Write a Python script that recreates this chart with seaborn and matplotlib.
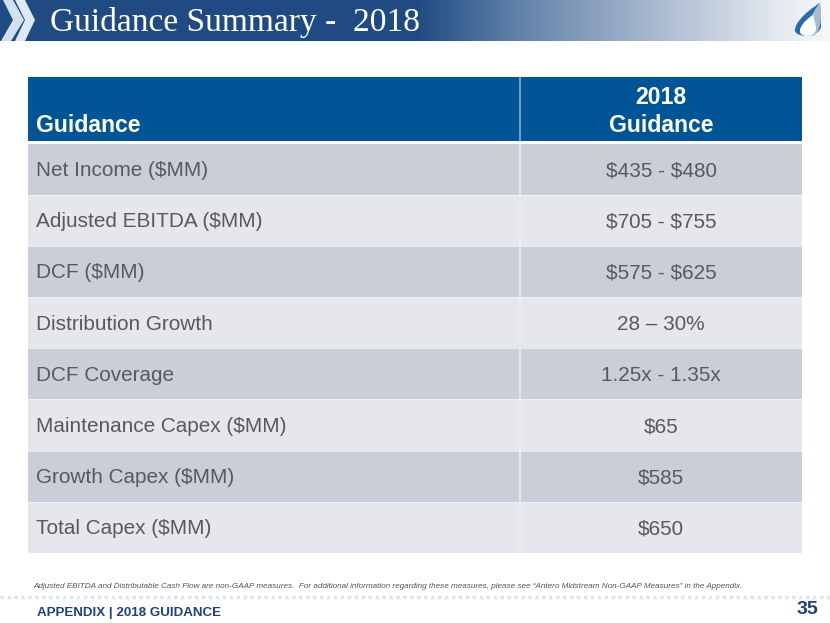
import numpy as np
import pandas as pd
import matplotlib
matplotlib.use('Agg')
import matplotlib.pyplot as plt
from matplotlib.colors import LinearSegmentedColormap, ListedColormap
from matplotlib.patches import Polygon, PathPatch
from matplotlib.path import Path
import seaborn as sns

W, H = 830, 623

title = 'Guidance Summary -  2018'
header = ['Guidance', '2018', 'Guidance']
metrics = ['Net Income ($MM)', 'Adjusted EBITDA ($MM)', 'DCF ($MM)', 'Distribution Growth',
           'DCF Coverage', 'Maintenance Capex ($MM)', 'Growth Capex ($MM)', 'Total Capex ($MM)']
guidance = ['$435 - $480', '$705 - $755', '$575 - $625', '28 – 30%',
            '1.25x - 1.35x', '$65', '$585', '$650']
footnote = ('Adjusted EBITDA and Distributable Cash Flow are non-GAAP measures.  For additional information '
            'regarding these measures, please see “Antero Midstream Non-GAAP Measures” in the Appendix.')
section = 'APPENDIX | 2018 GUIDANCE'
page = '35'

sns.set_theme(style='white')
plt.rcParams['font.family'] = ['Liberation Sans', 'DejaVu Sans']
plt.rcParams['text.parse_math'] = False  # dollar signs are plain text here

fig = plt.figure(figsize=(W / 100, H / 100), dpi=100, facecolor='white')


def px_axes(x0, y0, x1, y1):
    # axes placed in image pixels, y measured from the top
    return fig.add_axes([x0 / W, 1 - y1 / H, (x1 - x0) / W, (y1 - y0) / H])


# page layer for banner, footer and free text
bg = px_axes(0, 0, W, H)
bg.axis('off')

banner = LinearSegmentedColormap.from_list('banner', [
    (0, '#1f4b82'), (0.5, '#1f4b82'), (0.62, '#5f80a8'), (0.78, '#a5b6cd'), (0.93, '#e0e6ee'), (1, '#f6f7f9')])
bg.imshow(np.linspace(0, 1, 400).reshape(1, -1), cmap=banner, extent=(0, W, 41, 0), aspect='auto')
bg.set_xlim(0, W)
bg.set_ylim(H, 0)

# chevrons at the left of the banner
bg.add_patch(Polygon([(3, 0), (13, 0), (24, 20), (11, 41), (1, 41), (13, 20)], fc='#d3e0ee', ec='none'))
bg.add_patch(Polygon([(15, 0), (25, 0), (35, 20), (25, 41), (15, 41), (25, 20)], fc='#dfe9f3', ec='none'))

# flame logo
CURVES = [Path.MOVETO, Path.CURVE4, Path.CURVE4, Path.CURVE4, Path.CURVE4, Path.CURVE4, Path.CURVE4]
outer = Path([(820, 3), (805, 12), (794, 24), (795, 31), (797, 38), (818, 38), (821, 27)], CURVES)
bg.add_patch(PathPatch(outer, fc='#2a6cae', ec='none'))
right = Path([(820, 3), (810, 14), (806, 30), (812, 36), (819, 35), (823, 20), (820, 3)], CURVES)
bg.add_patch(PathPatch(right, fc='#a9bcd3', ec='none'))
inner = Path([(813, 15), (805, 20), (797, 29), (801, 34), (806, 38), (817, 36), (816, 27)], CURVES)
bg.add_patch(PathPatch(inner, fc='white', ec='none'))

bg.text(50, 22, title, color='white', fontsize=24.1, family=['Liberation Serif'], va='center', ha='left')

# footer
bg.plot([0, W], [597, 597], color='#dfe5ee', lw=2.5, ls=(0, (1, 1)))
bg.text(33, 586, footnote, fontsize=5.9, style='italic', color='#555555', va='center', ha='left')
bg.text(37, 613, section, fontsize=9.6, fontweight='bold', color='#1f4180', va='center', ha='left')
bg.text(818, 610, page, fontsize=14, fontweight='bold', color='#1f4180', va='center', ha='right')

# header row
ax_head = px_axes(28, 77, 802, 141)
sns.heatmap(np.zeros((1, 2)), ax=ax_head, cmap=ListedColormap(['#005596']), cbar=False,
            linewidths=0, xticklabels=False, yticklabels=False)

# body rows, banded
bands = pd.DataFrame({'metric': [i % 2 for i in range(len(metrics))],
                      'guidance': [i % 2 for i in range(len(metrics))]}, index=metrics)
ax_body = px_axes(28, 143.5, 802, 553)
sns.heatmap(bands, ax=ax_body, cmap=ListedColormap(['#c9ced9', '#e6e7ec']), cbar=False,
            linewidths=0, xticklabels=False, yticklabels=False)

# the two columns are not equal, so draw them on a pixel scale over the heatmap
bg.set_zorder(3)
bg.patch.set_alpha(0)
bg.plot([520, 520], [77, 141], color='#8db3d8', lw=1.1)
bg.plot([520, 520], [143.5, 553], color='#eceef3', lw=1.1)
row_h = (553 - 143.5) / len(metrics)
for i in range(1, len(metrics)):
    y = 143.5 + i * row_h
    bg.plot([28, 802], [y, y], color='#f2f3f6', lw=0.6)

bg.text(36, 125, header[0], color='white', fontsize=16.6, fontweight='bold', va='center', ha='left')
bg.text(661, 97, header[1], color='white', fontsize=16.6, fontweight='bold', va='center', ha='center')
bg.text(661, 125, header[2], color='white', fontsize=16.6, fontweight='bold', va='center', ha='center')
for i, (m, g) in enumerate(zip(metrics, guidance)):
    y = 143.5 + (i + 0.5) * row_h + 1.5
    bg.text(36, y, m, color='#595959', fontsize=14.95, va='center', ha='left')
    bg.text(661, y, g, color='#595959', fontsize=14.95, va='center', ha='center')

fig.savefig('out.png', dpi=100, facecolor='white')
